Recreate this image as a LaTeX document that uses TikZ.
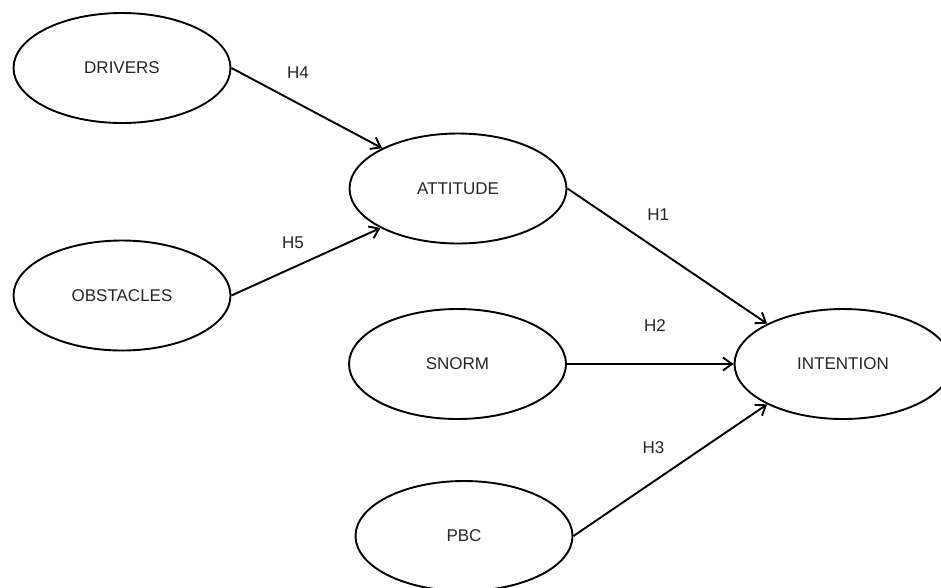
\documentclass[tikz,border=0pt]{standalone}
\usepackage{fontspec}
\setmainfont{Liberation Sans}
\usetikzlibrary{shapes.geometric,arrows.meta}
\tikzset{
  construct/.style={ellipse, draw=black, line width=1.9pt, fill=white, inner sep=0pt,
    minimum width=217pt, minimum height=110pt, font=\fontsize{17}{20}\selectfont, text=black!85},
  hyp/.style={font=\fontsize{17}{20}\selectfont, text=black!85, inner sep=0pt},
  link/.style={draw=black, line width=1.9pt, -{Straight Barb[length=9pt,width=13pt,line width=1.9pt]}}
}
\begin{document}
\begin{tikzpicture}[x=1pt,y=-1pt]
\useasboundingbox (0,0) rectangle (941,587);
\fill[white] (0,0) rectangle (941,587);
\node[construct] (drv) at (122,68) {DRIVERS};
\node[construct] (obs) at (122,295.5) {OBSTACLES};
\node[construct] (att) at (458,188.5) {ATTITUDE};
\node[construct] (snm) at (457.5,364) {SNORM};
\node[construct] (int) at (843,364) {INTENTION};
\node[construct] (pbc) at (464,536) {PBC};
\draw[link] (drv.east) -- (att.152);
\draw[link] (obs.east) -- (att.207);
\draw[link] (att.east) -- (int.152);
\draw[link] (snm.east) -- (int.west);
\draw[link] (pbc.east) -- (int.208);
\node[hyp] (h4) at (298,72.7) {H4};
\node[hyp] (h5) at (293,242.7) {H5};
\node[hyp] (h1) at (658.3,215) {H1};
\node[hyp] (h2) at (655,325.7) {H2};
\node[hyp] (h3) at (653.5,447.7) {H3};
\end{tikzpicture}
\end{document}
